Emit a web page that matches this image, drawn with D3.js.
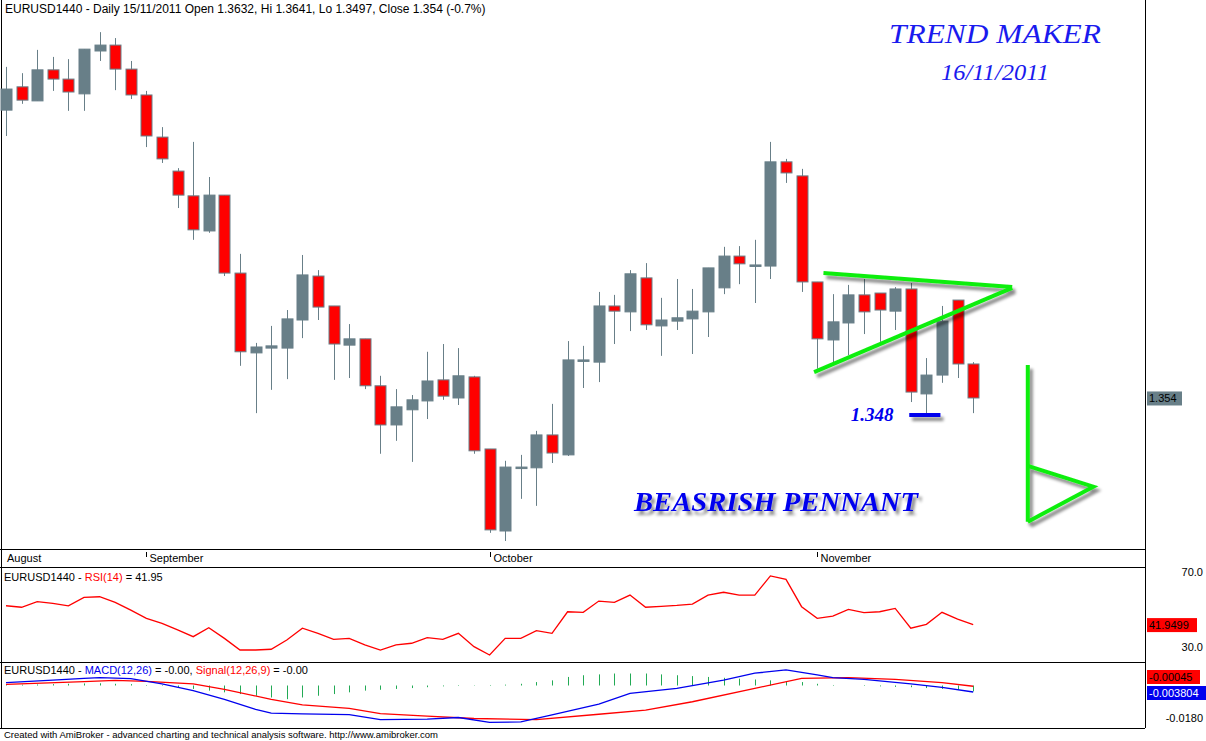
<!DOCTYPE html>
<html>
<head>
<meta charset="utf-8">
<script src="https://cdn.jsdelivr.net/npm/d3@7"></script>
<style>
  body { margin: 0; background: #fff; }
  text { font-family: "Liberation Sans", Arial, sans-serif; }
  text.deco { font-family: "Liberation Serif", "DejaVu Serif", serif; font-style: italic; }
</style>
</head>
<body>
<svg id="chart" width="1206" height="741"></svg>
<script>
// daily candles: open, high, low, close
const opens  = [1.4319,1.4382,1.4344,1.4428,1.4403,1.4363,1.4479,1.4495,1.4430,1.4360,1.4246,1.4154,1.4087,1.3992,1.4089,1.3878,1.3662,1.3675,1.3675,1.3751,1.3870,1.3789,1.3683,1.3700,1.3573,1.3467,1.3508,1.3532,1.3589,1.3540,1.3597,1.3402,1.3180,1.3351,1.3351,1.3440,1.3386,1.3640,1.3637,1.3789,1.3773,1.3865,1.3735,1.3748,1.3754,1.3773,1.3838,1.3924,1.3897,1.3897,1.4179,1.4141,1.3854,1.3697,1.3743,1.3819,1.3824,1.3775,1.3835,1.3551,1.3602,1.3805,1.3632];
const highs  = [1.4436,1.4419,1.4482,1.4463,1.4457,1.4484,1.4530,1.4514,1.4452,1.4371,1.4273,1.4162,1.4233,1.4138,1.4089,1.3930,1.3689,1.3735,1.3778,1.3927,1.3886,1.3789,1.3740,1.3700,1.3600,1.3564,1.3548,1.3665,1.3686,1.3675,1.3600,1.3402,1.3370,1.3386,1.3451,1.3524,1.3694,1.3681,1.3827,1.3819,1.3886,1.3905,1.3811,1.3862,1.3835,1.3892,1.3949,1.3951,1.3968,1.4233,1.4187,1.4160,1.3854,1.3821,1.3846,1.3862,1.3824,1.3840,1.3851,1.3648,1.3789,1.3805,1.3637];
const lows   = [1.4249,1.4336,1.4344,1.4371,1.4317,1.4317,1.4452,1.4373,1.4349,1.4219,1.4176,1.4054,1.3968,1.3987,1.3870,1.3627,1.3499,1.3562,1.3591,1.3702,1.3751,1.3589,1.3594,1.3564,1.3389,1.3424,1.3367,1.3483,1.3535,1.3521,1.3389,1.3175,1.3153,1.3267,1.3248,1.3364,1.3383,1.3567,1.3583,1.3686,1.3721,1.3724,1.3654,1.3724,1.3659,1.3705,1.3821,1.3848,1.3797,1.3862,1.4122,1.3827,1.3619,1.3637,1.3656,1.3713,1.3692,1.3724,1.3529,1.3494,1.3581,1.3594,1.3499];
const closes = [1.4376,1.4346,1.4428,1.4403,1.4368,1.4484,1.4495,1.4430,1.4360,1.4249,1.4187,1.4089,1.3995,1.4089,1.3878,1.3665,1.3678,1.3681,1.3754,1.3873,1.3786,1.3686,1.3700,1.3573,1.3467,1.3516,1.3535,1.3586,1.3545,1.3600,1.3397,1.3183,1.3353,1.3353,1.3440,1.3391,1.3643,1.3643,1.3789,1.3775,1.3876,1.3738,1.3751,1.3757,1.3775,1.3892,1.3924,1.3903,1.3900,1.4179,1.4149,1.3854,1.3700,1.3746,1.3819,1.3773,1.3778,1.3835,1.3556,1.3602,1.3748,1.3632,1.3540];

const monthLabels = ["August", "September", "October", "November"];
const monthStarts = [null, 9, 31, 52];

const rsi = [52.0,51.2,54.2,53.3,51.9,56.5,56.8,53.8,49.7,45.3,42.6,39.1,35.5,40.3,34.6,28.4,28.4,28.8,33.7,40.0,37.3,34.1,34.6,31.1,28.4,31.1,32.0,35.0,34.1,37.3,30.2,25.7,34.6,34.6,38.7,37.3,48.8,48.5,54.5,53.8,57.7,51.2,51.7,52.2,52.9,57.7,59.2,57.7,57.7,67.9,66.1,51.5,45.3,46.5,50.1,48.3,48.8,50.6,40.0,42.1,48.5,44.9,41.95];
const rsiTicks = [70, 30];

// MACD and signal, read at the marked candles
const macdIdx = [0,3,5,6,8,10,12,14,16,17,19,22,24,27,29,31,33,35,38,40,43,46,48,50,52,53,55,58,60,62];
const macdVal = [0.0017,0.0032,0.0042,0.0046,0.0040,0.0009,-0.0030,-0.0081,-0.0140,-0.0162,-0.0166,-0.0170,-0.0199,-0.0197,-0.0187,-0.0215,-0.0213,-0.0172,-0.0109,-0.0046,-0.0017,0.0032,0.0072,0.0091,0.0062,0.0046,0.0036,0.0009,-0.0011,-0.003804];
const signalIdx = [0,5,7,9,12,14,17,19,22,24,27,30,34,38,41,44,48,51,54,57,60,62];
const signalVal = [0.0007,0.0023,0.0030,0.0024,0.0009,-0.0023,-0.0081,-0.0113,-0.0134,-0.0164,-0.0179,-0.0193,-0.0199,-0.0168,-0.0144,-0.0095,-0.0017,0.0042,0.0046,0.0036,0.0017,-0.00045];
const histVal = [0.0004,0.0005,0.0006,0.0008,0.0010,0.0012,0.0013,0.0010,0.0008,0.0003,-0.0003,-0.0010,-0.0020,-0.0030,-0.0040,-0.0050,-0.0060,-0.0070,-0.0080,-0.0070,-0.0060,-0.0050,-0.0040,-0.0030,-0.0025,-0.0020,-0.0015,-0.0010,-0.0005,-0.0003,-0.0002,0.0003,0.0005,0.0010,0.0020,0.0030,0.0050,0.0060,0.0065,0.0070,0.0070,0.0070,0.0065,0.0060,0.0055,0.0050,0.0045,0.0040,0.0035,0.0030,0.0025,0.0020,0.0010,0.0003,0.0000,-0.0003,-0.0005,-0.0008,-0.0010,-0.0015,-0.0020,-0.0025,-0.0034];

// drawn annotations, in candle index / price units
const pennantUpper = [[52.4, 1.3878], [64.5, 1.3840]];
const pennantLower = [[51.8, 1.3610], [64.5, 1.3838]];
const supportMark = [[57.9, 1.3494], [59.9, 1.3494]];
const flagPole = [[65.5, 1.3629], [65.5, 1.3205]];
const flagTri = [[65.5, 1.3356], [69.7, 1.3300], [65.5, 1.3205]];

const svg = d3.select("#chart");
const W = 1206, axisX = 1145;
const up = "#687f88", down = "#ff0000", green = "#10ee10";

const defs = svg.append("defs");
defs.append("filter").attr("id", "shadow").attr("x", "-20%").attr("y", "-20%").attr("width", "150%").attr("height", "160%")
  .append("feDropShadow").attr("dx", 3).attr("dy", 4).attr("stdDeviation", 1.6)
  .attr("flood-color", "#000").attr("flood-opacity", 0.45);

const x = d3.scaleLinear().domain([0, 62]).range([6, 973.2]);
const y = d3.scaleLinear().domain([1.3134, 1.4571]).range([548, 17]);
const yR = d3.scaleLinear().domain([30, 70]).range([647, 572]);
const yM = d3.scaleLinear().domain([-0.0038, 0]).range([692, 685.5]);

// panel frames
[549, 567, 662, 728].forEach(v => {
  svg.append("line").attr("x1", 0).attr("x2", axisX).attr("y1", v + 0.5).attr("y2", v + 0.5).attr("stroke", "#000");
});
svg.append("line").attr("x1", 1.5).attr("x2", 1.5).attr("y1", 0).attr("y2", 728).attr("stroke", "#000");
svg.append("line").attr("x1", axisX + 0.5).attr("x2", axisX + 0.5).attr("y1", 0).attr("y2", 728).attr("stroke", "#000");

// title
svg.append("text").attr("x", 5).attr("y", 13).attr("font-size", 12)
  .text("EURUSD1440 - Daily 15/11/2011 Open 1.3632, Hi 1.3641, Lo 1.3497, Close 1.354 (-0.7%)");

// candles
const idx = d3.range(opens.length);
const cg = svg.append("g");
cg.selectAll("line.wick").data(idx).join("line")
  .attr("x1", i => Math.round(x(i)) + 0.5).attr("x2", i => Math.round(x(i)) + 0.5)
  .attr("y1", i => y(highs[i])).attr("y2", i => y(lows[i]))
  .attr("stroke", up).attr("stroke-width", 1);
cg.selectAll("rect.body").data(idx).join("rect")
  .attr("x", i => Math.round(x(i)) - 5)
  .attr("width", 11)
  .attr("y", i => y(Math.max(opens[i], closes[i])))
  .attr("height", i => Math.max(1.5, Math.abs(y(opens[i]) - y(closes[i]))))
  .attr("fill", i => closes[i] >= opens[i] ? up : down)
  .attr("stroke", up).attr("stroke-width", 1);

// annotations
const px = d => [x(d[0]), y(d[1])];
const ag = svg.append("g").attr("filter", "url(#shadow)");
[pennantUpper, pennantLower, flagPole, flagTri].forEach(s => {
  ag.append("path").attr("d", d3.line()(s.map(px))).attr("stroke", green).attr("stroke-width", 4).attr("fill", "none");
});
ag.append("path").attr("d", d3.line()(supportMark.map(px))).attr("stroke", "#0000ee").attr("stroke-width", 4).attr("fill", "none");

svg.append("text").attr("class", "deco").attr("x", 872).attr("y", 421).attr("text-anchor", "middle")
  .attr("font-weight", "bold").attr("font-size", 19).attr("fill", "#0000ee").text("1.348");
svg.append("text").attr("class", "deco").attr("x", 776).attr("y", 511).attr("text-anchor", "middle")
  .attr("font-weight", "bold").attr("font-size", 27).attr("fill", "#0000ee")
  .attr("textLength", 284).attr("lengthAdjust", "spacingAndGlyphs")
  .attr("filter", "url(#shadow)").text("BEASRISH PENNANT");
svg.append("text").attr("class", "deco").attr("x", 995).attr("y", 43).attr("text-anchor", "middle")
  .attr("font-size", 27).attr("fill", "#1a1aee").attr("textLength", 212).attr("lengthAdjust", "spacingAndGlyphs")
  .text("TREND MAKER");
svg.append("text").attr("class", "deco").attr("x", 995).attr("y", 80).attr("text-anchor", "middle")
  .attr("font-size", 24).attr("fill", "#1a1aee").attr("textLength", 108).attr("lengthAdjust", "spacingAndGlyphs")
  .text("16/11/2011");

// price label
const lastClose = closes[closes.length - 1];
svg.append("rect").attr("x", axisX + 2).attr("y", y(lastClose) - 6.5).attr("width", 35).attr("height", 14).attr("fill", up);
svg.append("text").attr("x", axisX + 4).attr("y", y(lastClose) + 4.5).attr("font-size", 11).text(d3.format(".3f")(lastClose));

// date strip
monthLabels.forEach((m, k) => {
  const mx = monthStarts[k] == null ? 4 : Math.round(x(monthStarts[k])) + 0.5;
  if (monthStarts[k] != null) {
    svg.append("line").attr("x1", mx).attr("x2", mx).attr("y1", 552).attr("y2", 557).attr("stroke", "#000");
  }
  svg.append("text").attr("x", mx + 3).attr("y", 562).attr("font-size", 11).text(m);
});

// RSI panel
const rsiTitle = svg.append("text").attr("x", 4).attr("y", 581).attr("font-size", 11);
rsiTitle.append("tspan").text("EURUSD1440 - ");
rsiTitle.append("tspan").attr("fill", "red").text("RSI(14)");
rsiTitle.append("tspan").text(" = " + d3.format(".2f")(rsi[rsi.length - 1]));
svg.append("path").attr("d", d3.line().x((d, i) => x(i)).y(d => yR(d))(rsi))
  .attr("fill", "none").attr("stroke", "red").attr("stroke-width", 1.3);
rsiTicks.forEach(t => {
  svg.append("text").attr("x", 1203).attr("y", yR(t) + 4).attr("text-anchor", "end").attr("font-size", 11).text(d3.format(".1f")(t));
});
const lastRsi = rsi[rsi.length - 1];
svg.append("rect").attr("x", axisX + 2).attr("y", yR(lastRsi) - 6.5).attr("width", 50).attr("height", 14).attr("fill", "red");
svg.append("text").attr("x", axisX + 4).attr("y", yR(lastRsi) + 4.5).attr("font-size", 11).text("41.9499");

// MACD panel
const mTitle = svg.append("text").attr("x", 4).attr("y", 674).attr("font-size", 11);
mTitle.append("tspan").text("EURUSD1440 - ");
mTitle.append("tspan").attr("fill", "#0000ee").text("MACD(12,26)");
mTitle.append("tspan").text(" = -0.00, ");
mTitle.append("tspan").attr("fill", "red").text("Signal(12,26,9)");
mTitle.append("tspan").text(" = -0.00");
svg.append("g").selectAll("line").data(histVal).join("line")
  .attr("x1", (d, i) => Math.round(x(i)) + 0.5).attr("x2", (d, i) => Math.round(x(i)) + 0.5)
  .attr("y1", yM(0)).attr("y2", d => yM(d))
  .attr("stroke", "#22aa55").attr("stroke-width", 1);
svg.append("path").attr("d", d3.line().x((d, i) => x(signalIdx[i])).y(d => yM(d))(signalVal))
  .attr("fill", "none").attr("stroke", "red").attr("stroke-width", 1.3);
svg.append("path").attr("d", d3.line().x((d, i) => x(macdIdx[i])).y(d => yM(d))(macdVal))
  .attr("fill", "none").attr("stroke", "#0000ee").attr("stroke-width", 1.3);
svg.append("text").attr("x", 1203).attr("y", yM(-0.018) + 6).attr("text-anchor", "end").attr("font-size", 11).text("-0.0180");
svg.append("rect").attr("x", axisX + 2).attr("y", 670).attr("width", 53).attr("height", 14).attr("fill", "red");
svg.append("text").attr("x", axisX + 4).attr("y", 681).attr("font-size", 11).text("-0.00045");
svg.append("rect").attr("x", axisX + 2).attr("y", 686).attr("width", 59).attr("height", 14).attr("fill", "#0000ee");
svg.append("text").attr("x", axisX + 4).attr("y", 697).attr("font-size", 11).attr("fill", "#fff").text("-0.003804");

// footer
svg.append("text").attr("x", 4).attr("y", 738).attr("font-size", 9.5)
  .text("Created with AmiBroker - advanced charting and technical analysis software. http://www.amibroker.com");
</script>
</body>
</html>
